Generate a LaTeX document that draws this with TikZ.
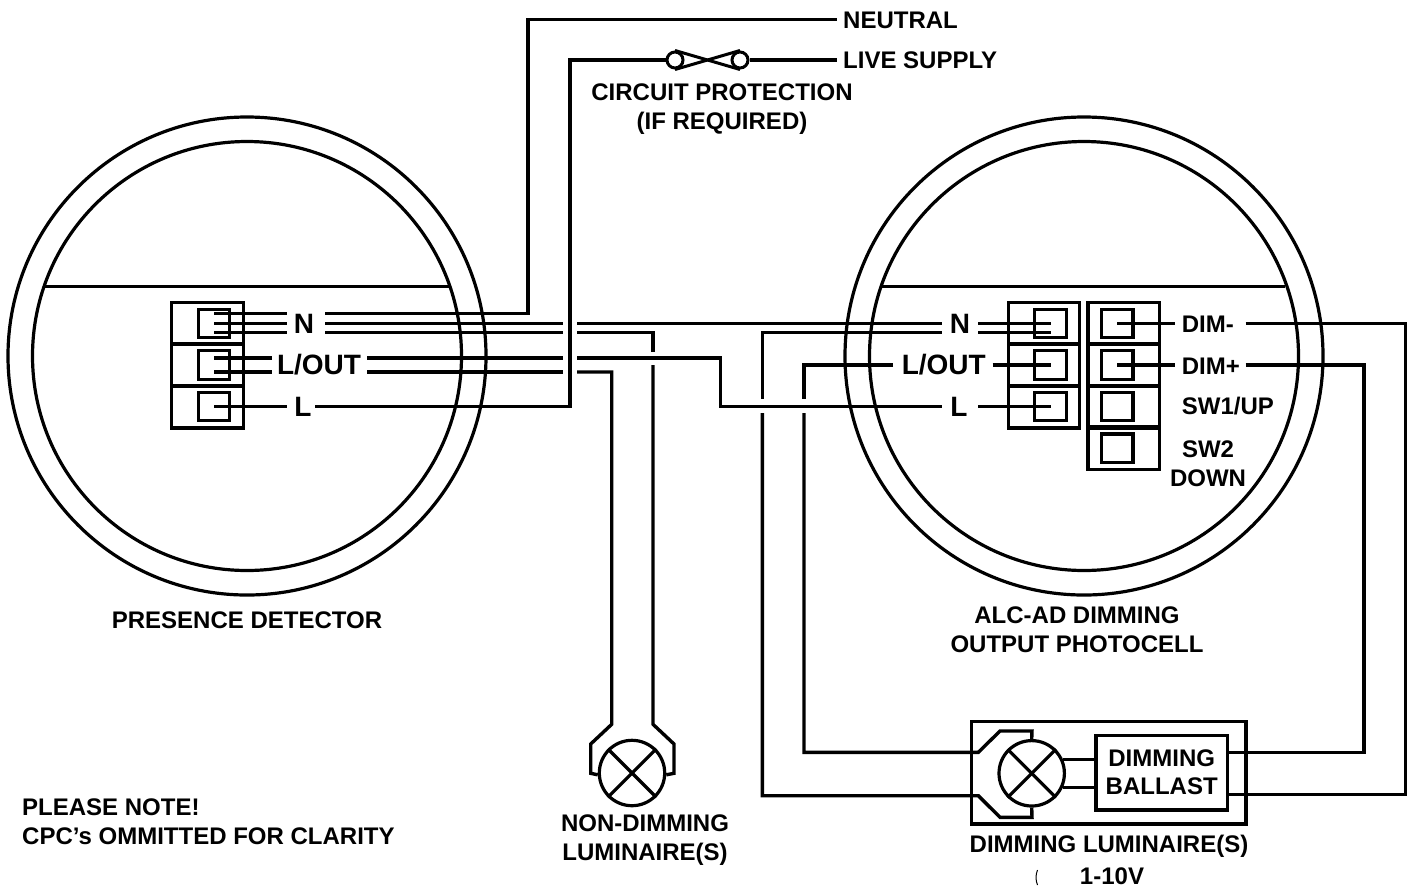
\documentclass[tikz,border=0pt]{standalone}
\usepackage{fontspec}
\setmainfont{Liberation Sans}
\usetikzlibrary{calc}
\tikzset{
  wire/.style={draw,line width=3.4pt,line join=miter},
  ring/.style={draw,circle,line width=3.2pt,inner sep=0pt},
  cell/.style={draw,rectangle,line width=3.2pt,inner sep=0pt,minimum width=71.5pt,minimum height=42pt},
  screw/.style={draw,rectangle,line width=3.2pt,inner sep=0pt,minimum width=31.5pt,minimum height=28.5pt},
  lamp/.style={draw,circle,line width=3.2pt,inner sep=0pt,minimum size=65.4pt},
  fuse/.style={draw,circle,line width=3pt,inner sep=0pt,minimum size=16pt},
  txt/.style={inner sep=0pt,font=\fontsize{24}{29}\selectfont\bfseries,align=center},
  bigtxt/.style={inner sep=0pt,font=\fontsize{28}{29}\selectfont\bfseries}
}
\begin{document}
\begin{tikzpicture}[x=1pt,y=-1pt]
  \useasboundingbox (0,0) rectangle (1412,887);

  % detector bodies
  \foreach \n/\c in {pd/247,pc/1084} {
    \node[ring,minimum size=478pt] (\n-outer) at (\c,356) {};
    \node[ring,minimum size=429pt] (\n-inner) at (\c,356) {};
  }
  \draw[line width=3pt] (45,286) -- (449,286);
  \draw[line width=3pt] (882,286) -- (1285,286);

  % terminal blocks
  \foreach \r/\y/\s in {1/323.3/323.5,2/365/365,3/407/406.5} {
    \node[cell] at (207.4,\y) {};
    \node[screw] (pd-\r) at (214,\s) {};
    \node[cell] at (1044,\y) {};
    \node[screw] (pc-\r) at (1050.5,\s) {};
    \node[cell] at (1123.7,\y) {};
    \node[screw] (dim-\r) at (1117.3,\s) {};
  }
  \node[cell,minimum height=42.3pt] at (1123.7,448.2) {};
  \node[screw] (dim-4) at (1117.3,448.2) {};

  % labels
  \node[bigtxt] (pdN) at (304,324) {N};
  \node[bigtxt] (pdOut) at (319,365) {L/OUT};
  \node[bigtxt] (pdL) at (303,407) {L};
  \node[bigtxt] (pcN) at (960,324) {N};
  \node[bigtxt] (pcOut) at (943.8,365) {L/OUT};
  \node[bigtxt] (pcL) at (959,407) {L};
  \node[txt,anchor=west] (dimMinus) at (1181.7,324) {DIM-};
  \node[txt,anchor=west] (dimPlus) at (1181.7,366) {DIM+};
  \node[txt,anchor=west] (swUp) at (1181.7,406) {SW1/UP};
  \node[txt] (swDown) at (1208,464) {SW2\\DOWN};
  \node[txt,anchor=west] (neutral) at (843,20) {NEUTRAL};
  \node[txt,anchor=west] (live) at (843,60) {LIVE SUPPLY};
  \node[txt] (protection) at (722,109) {CIRCUIT PROTECTION\\(IF REQUIRED)};
  \node[txt] (presence) at (247,620) {PRESENCE DETECTOR};
  \node[txt] (photocell) at (1077,629.5) {ALC-AD DIMMING\\OUTPUT PHOTOCELL};
  \node[txt] (nondim) at (645,840) {NON-DIMMING\\LUMINAIRE(S)};
  \node[txt] (dimlum) at (1109,846) {DIMMING LUMINAIRE(S)};
  \node[txt] (volts) at (1112,876.5) {1-10V};
  \node[txt,anchor=west,align=left] (note) at (22,822) {PLEASE NOTE!\\CPC{\char"27}s OMMITTED FOR CLARITY};

  % lamps, fuse and ballast
  \node[lamp] (lampA) at (632,773) {};
  \node[lamp] (lampB) at (1031.7,773.3) {};
  \foreach \l in {lampA,lampB} {
    \draw[line width=3.2pt] (\l.45) -- (\l.225);
    \draw[line width=3.2pt] (\l.135) -- (\l.-45);
  }
  \node[fuse] (fuseL) at (675,60) {};
  \node[fuse] (fuseR) at (740,60) {};
  \draw[line width=3pt] (fuseL.north) -- (fuseR.south);
  \draw[line width=3pt] (fuseL.south) -- (fuseR.north);
  \node[draw,rectangle,line width=3.2pt,inner sep=0pt,minimum width=131.3pt,minimum height=74.7pt,
        font=\fontsize{24}{28}\selectfont\bfseries,align=center] (ballast) at (1161.7,772.6) {DIMMING\\BALLAST};
  \node[draw,rectangle,line width=3.2pt,inner sep=0pt,minimum width=274.3pt,minimum height=102.3pt] (fitting) at (1108.9,772.9) {};

  \foreach \n/\x/\y in {
    a/214/313.5, b/214/323.5, c/214/332.7, d/214/358, e/214/372, f/214/406.5,
    a1/286.7/313.5, b1/286.7/323.5, c1/286.7/332.7, d1/271.7/358, e1/271.7/372, f1/287/406.5,
    a2/325/313.5, b2/325/323.5, c2/325/332.7, d2/367/358, e2/367/372, f2/315/406.5,
    b3/563/323.5, c3/563/332.7, d3/563/358, e3/563/372,
    b4/577/323.5, c4/577/332.7, d4/577/358, e4/577/372,
    g/1050.5/323.5, h/1050.5/332.7, i/978/323.5, j/978/332.7, k/941.7/323.5, l/941.7/332.7,
    m/992.7/365, n/893/365, o/978/406.5, p/941.7/406.5, q/1050.5/365, r/1050.5/406.5,
    s/1117.3/323.5, t/1175/323.5, u/1245.7/323.5, v/1117.3/365, w/1175/365, x/1245.7/365
  } {\coordinate (\n) at (\x,\y);}

  % wiring at the detector
  \foreach \p/\q in {a/a1,b/b1,c/c1,d/d1,e/e1,f/f1,b2/b3,c2/c3,d2/d3,e2/e3,i/g,j/h,m/q,o/r,s/t,v/w} {
    \draw[wire] (\p) -- (\q);
  }
  \draw[wire] (a2) -- (528,313.5) -- (528,19.5) -- (836.7,19.5);
  \draw[wire] (f2) -- (570,406.5) -- (570,60) -- (fuseL.west);
  \draw[wire] (fuseR.east) -- (836.7,60);
  \draw[wire] (b4) -- (k);
  \draw[wire] (c4) -- (653,332.7) -- (653,351.7);
  \draw[wire] (653,365) -- (653,724.3) -- (674,744) -- (674,773.3) -- (lampA.-3);
  \draw[wire] (e4) -- (611.7,372) -- (611.7,724.3) -- (590.7,744) -- (590.7,773.3) -- (lampA.183);
  \draw[wire] (d4) -- (720.5,358) -- (720.5,406.5) -- (p);

  % wiring at the photocell
  \draw[wire] (l) -- (762.3,332.7) -- (762.3,399);
  \draw[wire] (762.3,413) -- (762.3,795.7) -- (978.3,795.7) -- (1000,817.3) -- (1032,817.3) -- (lampB.south);
  \draw[wire] (n) -- (804,365) -- (804,399);
  \draw[wire] (804,413) -- (804,752.3) -- (978.3,752.3) -- (1000,731) -- (1032,731) -- (lampB.north);
  \draw[wire] (u) -- (1405.7,323.5) -- (1405.7,794.3) -- (ballast.east |- 0,794.3);
  \draw[wire] (x) -- (1364,365) -- (1364,752.3) -- (ballast.east |- 0,752.3);
  \draw[wire] (lampB.24) -- (ballast.west |- lampB.24);
  \draw[wire] (lampB.-24) -- (ballast.west |- lampB.-24);

  \draw[line width=1pt] (1037.5,870) .. controls (1035.5,875) and (1035.5,880) .. (1037.5,885);
\end{tikzpicture}
\end{document}
